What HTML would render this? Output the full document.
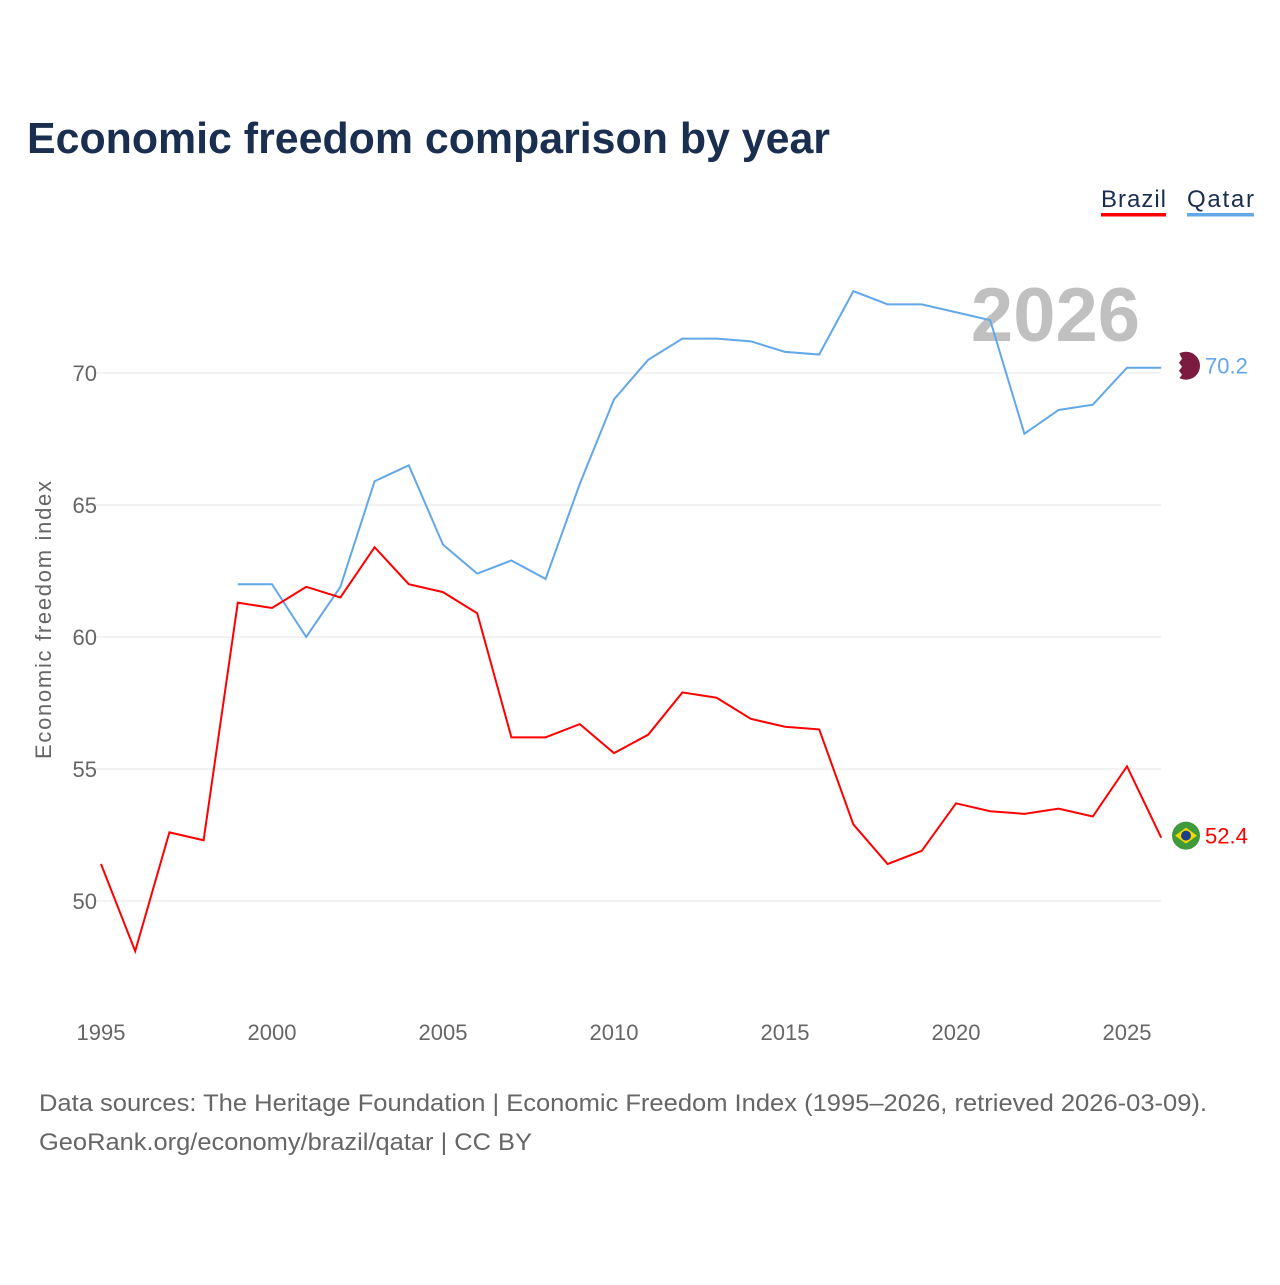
<!DOCTYPE html>
<html><head><meta charset="utf-8"><style>
body{margin:0;background:#fff;font-family:"Liberation Sans",sans-serif}
</style></head><body>
<svg width="1280" height="1280" xmlns="http://www.w3.org/2000/svg" id="chart">
<rect width="1280" height="1280" fill="#fff"/>
<text x="27" y="153" font-size="44" font-weight="bold" fill="#1a2e4f" textLength="803" lengthAdjust="spacingAndGlyphs">Economic freedom comparison by year</text>
<g><text x="1101" y="207" font-size="24" fill="#1a2e4f" textLength="65">Brazil</text><rect x="1101" y="213" width="65" height="3.5" fill="#f00"/></g>
<g><text x="1187" y="207" font-size="24" fill="#1a2e4f" textLength="67">Qatar</text><rect x="1187" y="213" width="67" height="3.5" fill="#62a7e8"/></g>
<text x="1140" y="341" font-size="76" font-weight="bold" fill="#c0c0c0" text-anchor="end">2026</text>
<g id="grid"></g><g id="lines"></g>
<text transform="translate(51,620) rotate(-90)" font-size="22" fill="#666" text-anchor="middle" textLength="278">Economic freedom index</text>
<text x="39" y="1111" font-size="24" fill="#666" textLength="1168" lengthAdjust="spacingAndGlyphs">Data sources: The Heritage Foundation | Economic Freedom Index (1995–2026, retrieved 2026-03-09).</text>
<text x="39" y="1150" font-size="24" fill="#666" textLength="493" lengthAdjust="spacingAndGlyphs">GeoRank.org/economy/brazil/qatar | CC BY</text>
</svg>
<script>
const years=[1995,1996,1997,1998,1999,2000,2001,2002,2003,2004,2005,2006,2007,2008,2009,2010,2011,2012,2013,2014,2015,2016,2017,2018,2019,2020,2021,2022,2023,2024,2025,2026];
const brazil=[51.4,48.1,52.6,52.3,61.3,61.1,61.9,61.5,63.4,62.0,61.7,60.9,56.2,56.2,56.7,55.6,56.3,57.9,57.7,56.9,56.6,56.5,52.9,51.4,51.9,53.7,53.4,53.3,53.5,53.2,55.1,52.4];
const qatar=[null,null,null,null,62.0,62.0,60.0,61.9,65.9,66.5,63.5,62.4,62.9,62.2,65.8,69.0,70.5,71.3,71.3,71.2,70.8,70.7,73.1,72.6,72.6,72.3,72.0,67.7,68.6,68.8,70.2,70.2];
const yTicks=[50,55,60,65,70];
const xTicks=[1995,2000,2005,2010,2015,2020,2025];
const NS="http://www.w3.org/2000/svg";
const x=y=>101+(y-1995)*34.2;
const yy=v=>373-(v-70)*26.4;
const grid=document.getElementById('grid'),lines=document.getElementById('lines');
function mk(t,a,p){const e=document.createElementNS(NS,t);for(const k in a)e.setAttribute(k,a[k]);p.appendChild(e);return e;}
yTicks.forEach(v=>{
 const l=mk('line',{x1:95,x2:1161,y1:yy(v),y2:yy(v),stroke:'#e6e6e6'},grid);
 
 
 const t=mk('text',{x:97,y:yy(v)+8,'font-size':22,fill:'#666','text-anchor':'end'},grid);t.textContent=v;
 
 
});
xTicks.forEach(v=>{
 const t=mk('text',{x:x(v),y:1040,'font-size':22,fill:'#666','text-anchor':'middle'},grid);t.textContent=v;
 
 
});
function series(vals,color,name){
 let d='';vals.forEach((v,i)=>{if(v==null)return;d+=(d?'L':'M')+x(years[i])+','+yy(v);});
 const p=mk('path',{d:d,fill:'none',stroke:color,'stroke-width':2},lines);
 
 
 const last=vals[vals.length-1];
 const cy=yy(last)-2;
 const c=mk('circle',{cx:1186,cy:cy,r:14,fill:name=='brazil'?'#3e9a3a':'#7a1b3f'},lines);
 
 
 if(name=='brazil'){mk('path',{d:`M1175,${cy}L1186,${cy-8}L1197,${cy}L1186,${cy+8}Z`,fill:'#f5d800'},lines);mk('circle',{cx:1186,cy:cy,r:5,fill:'#1d3f8a'},lines);}
 else{mk('path',{d:`M1179,${cy-13}A14,14 0 0 0 1179,${cy+13}L1182,${cy+9}L1179,${cy+5}L1182,${cy+1}L1179,${cy-3}L1182,${cy-7}Z`,fill:'#fff'},lines);}
 const t=mk('text',{x:1205,y:cy+8,'font-size':22,fill:color},lines);t.textContent=last.toFixed(1);
 
 
}
series(qatar,'#62a7e8','qatar');
series(brazil,'#f00','brazil');
</script>
</body></html>
